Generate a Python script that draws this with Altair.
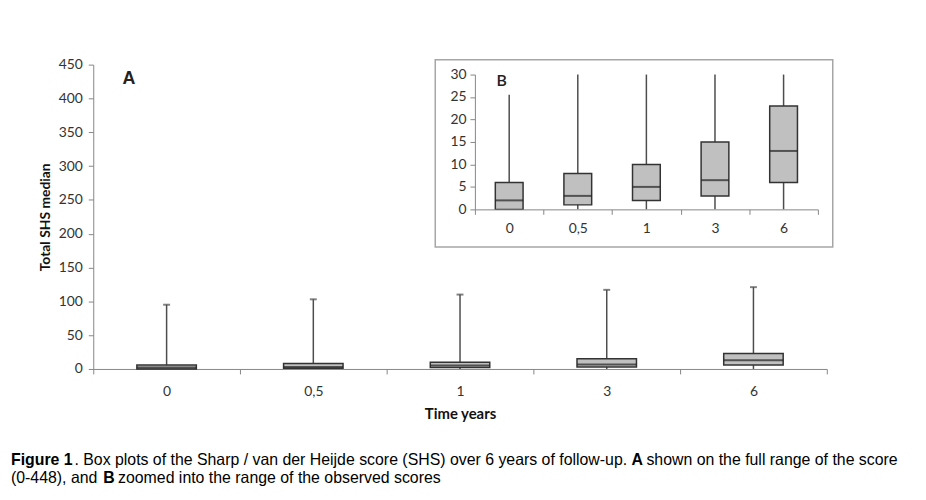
import altair as alt
import pandas as pd

# ---- data ----
times = ["0", "0,5", "1", "3", "6"]
lower = [0, 0, 0, 0, 0]
q1 = [0, 1, 2, 3, 6]
median = [2, 3, 5, 6.5, 13]
q3 = [6, 8, 10, 15, 23]
upper_full = [95, 103, 110, 117, 121]
upper_zoom = [25.5, 103, 110, 117, 121]
y_ticks_full = [0, 50, 100, 150, 200, 250, 300, 350, 400, 450]
y_ticks_zoom = [0, 5, 10, 15, 20, 25, 30]

df = pd.DataFrame(dict(time=times, lower=lower, q1=q1, median=median, q3=q3,
                       upper=upper_full, upper_zoom=upper_zoom))
one = pd.DataFrame({"k": [0]})

W, H = 740, 307
FONT = "Lato"
AX = "#868686"
LBL = "#333333"
LINE = "#4d4d4d"
FILL = "#c0c0c0"

# ---------- panel A ----------
xA_scale = alt.Scale(domain=times, paddingInner=0, paddingOuter=0)
xA_axis = alt.Axis(title="Time years", labelAngle=0, tickBand="extent",
                   domainColor=AX, tickColor=AX, tickSize=5, labelPadding=11,
                   labelColor=LBL, labelFont=FONT, labelFontSize=14,
                   titleFont=FONT, titleFontSize=15, titleFontWeight="bold",
                   titleColor="#111", titlePadding=8, grid=False)
yA_scale = alt.Scale(domain=[0, 450], nice=False)
yA_axis = alt.Axis(title="Total SHS median", values=y_ticks_full,
                   domainColor=AX, tickColor=AX, tickSize=5, labelPadding=6,
                   labelColor=LBL, labelFont=FONT, labelFontSize=14,
                   titleFont=FONT, titleFontSize=14, titleFontWeight="bold",
                   titleColor="#111", titlePadding=6, grid=False)

def xa():
    return alt.X("time:N", sort=times, scale=xA_scale, axis=xA_axis)

baseA = alt.Chart(df)
whiskA = baseA.mark_rule(color=LINE, strokeWidth=1.5).encode(
    x=xa(), y=alt.Y("lower:Q", scale=yA_scale, axis=yA_axis), y2="upper:Q")
capA = baseA.mark_tick(color=LINE, size=7, thickness=2).encode(
    x=xa(), y=alt.Y("upper:Q", scale=yA_scale, axis=yA_axis))
boxA = baseA.mark_bar(size=60, fill=FILL, stroke="#333", strokeWidth=1.5).encode(
    x=xa(), y=alt.Y("q1:Q", scale=yA_scale, axis=yA_axis), y2="q3:Q")
medA = baseA.mark_tick(color="#222", size=60, thickness=2).encode(
    x=xa(), y=alt.Y("median:Q", scale=yA_scale, axis=yA_axis))
panelA = alt.layer(whiskA, boxA, medA, capA)

# ---------- panel B (inset) ----------
xB_scale = alt.Scale(domain=times, range=[385, 731], paddingInner=0, paddingOuter=0)
xB_axis = alt.Axis(title=None, labelAngle=0, tickBand="extent", orient="bottom", offset=-161,
                   domainColor=AX, tickColor=AX, tickSize=5, labelPadding=7,
                   labelColor=LBL, labelFont=FONT, labelFontSize=14, grid=False, zindex=2)
yB_scale = alt.Scale(domain=[0, 30], range=[146, 10], nice=False, clamp=True)
yB_axis = alt.Axis(title=None, values=y_ticks_zoom, orient="left", offset=-385,
                   domainColor=AX, tickColor=AX, tickSize=5, labelPadding=4,
                   labelColor=LBL, labelFont=FONT, labelFontSize=14, grid=False, zindex=2)

def xb():
    return alt.X("time:N", sort=times, scale=xB_scale, axis=xB_axis)

baseB = alt.Chart(df)
whiskB = baseB.mark_rule(color=LINE, strokeWidth=1.5).encode(
    x=xb(), y=alt.Y("lower:Q", scale=yB_scale, axis=yB_axis), y2="upper_zoom:Q")
boxB = baseB.mark_bar(size=28, fill=FILL, stroke="#333", strokeWidth=1.5).encode(
    x=xb(), y=alt.Y("q1:Q", scale=yB_scale, axis=yB_axis), y2="q3:Q")
medB = baseB.mark_tick(color="#222", size=28, thickness=2).encode(
    x=xb(), y=alt.Y("median:Q", scale=yB_scale, axis=yB_axis))
panelB = alt.layer(whiskB, boxB, medB)

# ---------- frame and annotations ----------
frame = alt.Chart(one).mark_rect(fill="white", stroke="#a6a6a6", strokeWidth=1.5).encode(
    x=alt.value(345), x2=alt.value(746), y=alt.value(-5), y2=alt.value(184))
labA = alt.Chart(one).mark_text(text="A", font="Liberation Sans", fontSize=18,
                                fontWeight="bold", color="#222", baseline="middle",
                                align="center").encode(x=alt.value(36), y=alt.value(15))
labB = alt.Chart(one).mark_text(text="B", font=FONT, fontSize=16, fontWeight=600,
                                color="#222", baseline="middle", align="center").encode(
    x=alt.value(412), y=alt.value(17))

CAP = "Liberation Sans"
def cap(txt, x, y, bold=False):
    return alt.Chart(one).mark_text(text=txt, font=CAP, fontSize=16, color="#000",
                                    fontWeight="bold" if bold else "normal",
                                    align="left", baseline="middle").encode(
        x=alt.value(x), y=alt.value(y))

captions = [
    cap("Figure 1", -83, 399, True),
    cap(". Box plots of the Sharp / van der Heijde score (SHS) over 6 years of follow-up.", -19, 399),
    cap("A", 543, 399, True),
    cap("shown on the full range of the score", 558, 399),
    cap("(0-448), and", -83, 417),
    cap("B", 10, 417, True),
    cap("zoomed into the range of the observed scores", 25, 417),
]

chart = alt.layer(panelA, frame, panelB, labA, labB, *captions).resolve_scale(
    x="independent", y="independent"
).properties(
    width=W, height=H,
    autosize=alt.AutoSizeParams(type="none"),
    padding={"left": 86, "top": 55, "right": 92, "bottom": 125},
    background="white",
).configure_view(stroke=None)

chart.save("out.html", embed_options={"renderer": "svg", "actions": False})
